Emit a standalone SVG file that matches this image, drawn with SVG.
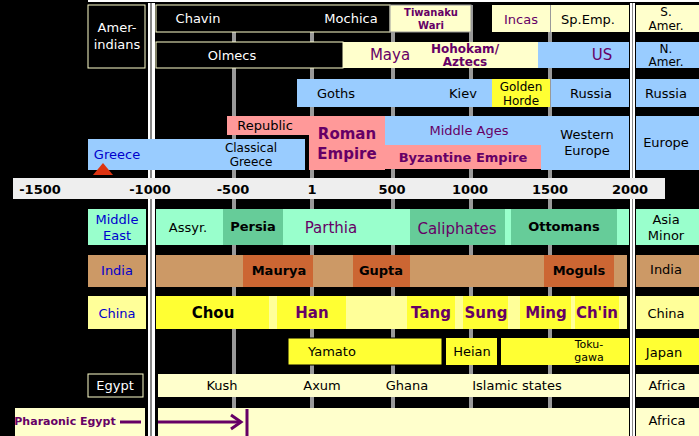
<svg xmlns="http://www.w3.org/2000/svg" width="699" height="436" viewBox="0 0 699 436">
<style>
text{font-family:"DejaVu Sans",sans-serif;font-size:13px;text-anchor:middle;fill:#000}
.w{fill:#fff}.b{fill:#0000cc}.p{fill:#660066}.bd{font-weight:bold}.l{font-size:15px}.s{font-size:12px}.xs{font-size:11px}
.cr{fill:#ffffcc}.bl{fill:#99ccff}.pk{fill:#ff9999}.mt{fill:#99ffcc}.dm{fill:#66cc99}.tn{fill:#cc9966}.br{fill:#cc6633}.yl{fill:#ffff33}.ly{fill:#ffff99}
.g{stroke:#999;stroke-width:4}
</style>
<rect width="699" height="436" fill="#000"/>
<rect x="88" y="0" width="611" height="2" fill="#fff"/>
<g id="grid">
<line class="g" x1="234" y1="5" x2="234" y2="436"/><line class="g" x1="312" y1="5" x2="312" y2="436"/><line class="g" x1="393" y1="5" x2="393" y2="436"/><line class="g" x1="471" y1="5" x2="471" y2="436"/><line class="g" x1="550" y1="5" x2="550" y2="436"/>
<rect x="148" y="3" width="2" height="433" fill="#fff"/><rect x="150" y="3" width="2" height="433" fill="#888"/><rect x="152" y="3" width="3" height="433" fill="#fff"/>
<rect x="630" y="3" width="2" height="433" fill="#fff"/><rect x="632" y="3" width="1" height="433" fill="#888"/><rect x="633" y="3" width="2" height="433" fill="#fff"/>
</g>
<g id="americas">
<rect x="88" y="5" width="57" height="63" fill="#000" stroke="#ffffcc"/><text class="w" x="117" y="32">Amer-</text><text class="w" x="117" y="49">indians</text>
<rect x="156" y="5" width="234" height="27" fill="#000" stroke="#ffffcc"/><text class="w" x="198" y="23">Chavin</text><text class="w" x="351" y="23">Mochica</text>
<rect x="390" y="5" width="81" height="27" class="cr" stroke="#999"/><text class="p bd" style="font-size:10px" x="431" y="16">Tiwanaku</text><text class="p bd" style="font-size:10px" x="431" y="29">Wari</text>
<rect x="492" y="5" width="58" height="27" class="cr"/><text class="p" x="521" y="24">Incas</text>
<rect x="551" y="5" width="78" height="27" class="cr"/><text x="588" y="24">Sp.Emp.</text>
<rect x="636" y="5" width="63" height="27" class="cr"/><text class="s" x="666" y="16">S.</text><text class="s" x="666" y="30">Amer.</text>
<rect x="156" y="42" width="187" height="26" fill="#000" stroke="#ffffcc"/><text class="w" x="232" y="60">Olmecs</text>
<rect x="343" y="42" width="195" height="26" class="cr"/><text class="p l" x="390" y="60">Maya</text><text class="p bd s" x="465" y="53">Hohokam/</text><text class="p bd s" x="465" y="66">Aztecs</text>
<rect x="538" y="42" width="91" height="26" class="bl"/><text class="p l" x="602" y="60">US</text>
<rect x="636" y="42" width="63" height="26" class="bl"/><text class="s" x="666" y="53">N.</text><text class="s" x="666" y="66">Amer.</text>
</g>
<g id="russia">
<rect x="297" y="79" width="195" height="28" class="bl"/><text x="336" y="98">Goths</text><text x="463" y="98">Kiev</text>
<rect x="492" y="79" width="58" height="28" class="yl"/><text class="s" x="521" y="91">Golden</text><text class="s" x="521" y="105">Horde</text>
<rect x="551" y="79" width="78" height="28" class="bl"/><text x="591" y="98">Russia</text>
<rect x="636" y="79" width="63" height="28" class="bl"/><text x="666" y="98">Russia</text>
</g>
<g id="europe">
<rect x="88" y="139" width="217" height="31" class="bl"/><text class="b" x="117" y="159">Greece</text><text class="s" x="251" y="152">Classical</text><text class="s" x="251" y="166">Greece</text>
<rect x="227" y="116" width="85" height="19" class="pk"/><text x="265" y="130">Republic</text>
<rect x="309" y="116" width="76" height="54" class="pk"/><text class="p bd l" x="347" y="139">Roman</text><text class="p bd l" x="347" y="159">Empire</text>
<rect x="385" y="116" width="244" height="29" class="bl"/><text class="p" x="469" y="135">Middle Ages</text>
<rect x="385" y="145" width="156" height="24" class="pk"/><text class="p bd" x="463" y="162">Byzantine Empire</text>
<rect x="541" y="116" width="88" height="54" class="bl"/><text x="587" y="139">Western</text><text x="587" y="155">Europe</text>
<rect x="636" y="116" width="63" height="54" class="bl"/><text x="666" y="147">Europe</text>
<polygon points="93,175 103,163 113,175" fill="#dd3311"/>
</g>
<g id="axis">
<rect x="13" y="178" width="652" height="21" fill="#eee"/>
<g class="bd" style="font-size:14px"><text x="40" y="194">-1500</text><text x="150" y="194">-1000</text><text x="233" y="194">-500</text><text x="312" y="194">1</text><text x="392" y="194">500</text><text x="470" y="194">1000</text><text x="550" y="194">1500</text><text x="630" y="194">2000</text></g>
</g>
<g id="middleeast">
<rect x="88" y="209" width="58" height="36" class="mt"/><text class="b" x="117" y="224">Middle</text><text class="b" x="117" y="240">East</text>
<rect x="156" y="209" width="473" height="36" class="mt"/><text x="188" y="232">Assyr.</text>
<rect x="223" y="209" width="60" height="36" class="dm"/><text class="bd" x="253" y="231">Persia</text>
<text class="p l" x="331" y="233">Parthia</text>
<rect x="410" y="209" width="95" height="36" class="dm"/><text class="p l" x="457" y="234">Caliphates</text>
<rect x="511" y="209" width="106" height="36" class="dm"/><text class="bd" x="564" y="231">Ottomans</text>
<rect x="636" y="209" width="63" height="36" class="mt"/><text x="666" y="224">Asia</text><text x="666" y="240">Minor</text>
</g>
<g id="india">
<rect x="88" y="255" width="58" height="32" class="tn"/><text class="b" x="117" y="275">India</text>
<rect x="156" y="255" width="471" height="32" class="tn"/>
<rect x="243" y="255" width="70" height="32" class="br"/><text class="bd" x="279" y="275">Maurya</text>
<rect x="353" y="255" width="57" height="32" class="br"/><text class="bd" x="381" y="275">Gupta</text>
<rect x="544" y="255" width="70" height="32" class="br"/><text class="bd" x="579" y="275">Moguls</text>
<rect x="636" y="255" width="63" height="32" class="tn"/><text x="666" y="274">India</text>
</g>
<g id="china">
<rect x="88" y="296" width="58" height="33" class="ly"/><text class="b" x="117" y="318">China</text>
<rect x="156" y="296" width="471" height="33" class="ly"/>
<rect x="156" y="296" width="113" height="33" class="yl"/><text class="bd l" x="213" y="318">Chou</text>
<rect x="277" y="296" width="69" height="33" class="yl"/><text class="p bd l" x="312" y="318">Han</text>
<rect x="407" y="296" width="48" height="33" class="yl"/><text class="p bd l" x="431" y="318">Tang</text>
<rect x="463" y="296" width="45" height="33" class="yl"/><text class="p bd l" x="486" y="318">Sung</text>
<rect x="520" y="296" width="51" height="33" class="yl"/><text class="p bd l" x="546" y="318">Ming</text>
<rect x="575" y="296" width="44" height="33" class="yl"/><text class="p bd l" x="597" y="318">Ch'in</text>
<rect x="636" y="296" width="63" height="33" class="ly"/><text x="666" y="318">China</text>
</g>
<g id="japan">
<rect x="288" y="338" width="154" height="27" class="yl" stroke="#000"/><text x="332" y="356">Yamato</text>
<rect x="446" y="338" width="51" height="27" class="yl"/><text x="472" y="356">Heian</text>
<rect x="501" y="338" width="128" height="27" class="yl"/><text class="xs" x="589" y="348">Toku-</text><text class="xs" x="589" y="361">gawa</text>
<rect x="636" y="338" width="63" height="27" class="yl"/><text x="664" y="357">Japan</text>
</g>
<g id="africa">
<rect x="88" y="374" width="55" height="23" fill="#000" stroke="#ffffcc"/><text class="w" x="115" y="390">Egypt</text>
<rect x="158" y="374" width="471" height="23" class="cr"/><text x="222" y="390">Kush</text><text x="322" y="390">Axum</text><text x="407" y="390">Ghana</text><text x="517" y="390">Islamic states</text>
<rect x="636" y="374" width="63" height="23" class="cr"/><text x="667" y="390">Africa</text>
<rect x="15" y="408" width="130" height="28" class="cr"/><text class="p bd xs" x="65" y="425">Pharaonic Egypt</text>
<line x1="120" y1="422" x2="141" y2="422" stroke="#660066" stroke-width="3"/>
<rect x="158" y="408" width="471" height="28" class="cr"/>
<rect x="636" y="408" width="63" height="28" class="cr"/><text x="667" y="425">Africa</text>
</g>
<g id="connectors">
<line x1="158" y1="422" x2="240" y2="422" stroke="#660066" stroke-width="3"/>
<polyline points="231,415 241,422 231,429" fill="none" stroke="#660066" stroke-width="3"/>
<line x1="247" y1="409" x2="247" y2="436" stroke="#660066" stroke-width="3"/>
</g>
</svg>
